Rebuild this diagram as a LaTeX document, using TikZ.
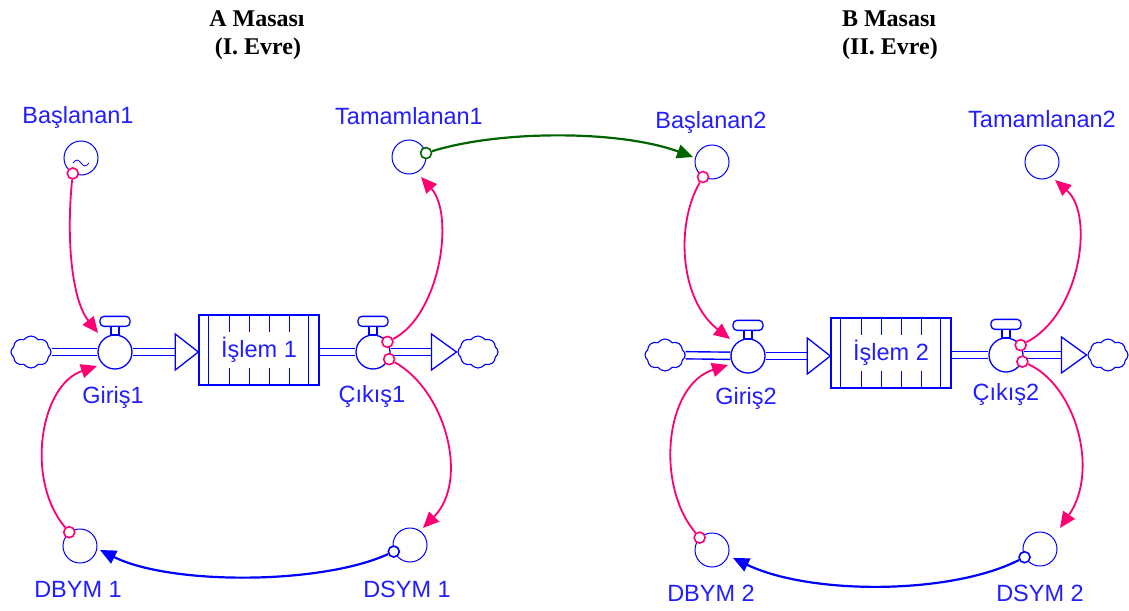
\documentclass[tikz,border=0pt]{standalone}
\usepackage{fontspec}
\newfontfamily\labfont{Liberation Sans}
\newfontfamily\ttlfont{Liberation Serif}
\usetikzlibrary{shapes.symbols,arrows.meta,calc}
\pgfdeclarelayer{back}
\pgfdeclarelayer{bg}
\pgfsetlayers{back,bg,main}
\definecolor{vblue}{RGB}{0,0,255}
\definecolor{vtext}{RGB}{35,30,255}
\definecolor{vpink}{RGB}{255,0,115}
\definecolor{vgreen}{RGB}{0,100,0}
\begin{document}
\begin{tikzpicture}[x=1pt,y=-1pt,
 aux/.style={circle,draw=vblue,line width=1pt,minimum size=34pt,inner sep=0pt,fill=white},
 valve/.style={circle,draw=vblue,line width=1.3pt,minimum size=34pt,inner sep=0pt,fill=white},
 stock/.style={rectangle,draw=vblue,line width=1.4pt,minimum width=120pt,minimum height=70pt,inner sep=0pt,fill=white,text=vtext,font=\labfont\fontsize{23.5}{26}\selectfont},
 lab/.style={text=vtext,font=\labfont\fontsize{23.5}{26}\selectfont,inner sep=0pt,anchor=base},
 ttl/.style={font=\ttlfont\bfseries\fontsize{24}{28}\selectfont,inner sep=0pt,anchor=base},
 src/.style={cloud,cloud puffs=8,cloud puff arc=110,aspect=1.25,draw=vblue,line width=1.1pt,minimum width=40pt,minimum height=32pt,inner sep=0pt,fill=white},
 pipe/.style={draw=vblue,line width=1.4pt,double=white,double distance=5.8pt},
 head/.style={draw=vblue,line width=1.3pt,fill=white,line join=miter},
 handle/.style={draw=vblue,line width=1.3pt,fill=white},
 inner/.style={draw=vblue,line width=1.3pt},
 dotp/.style={circle,draw=vpink,line width=1.6pt,fill=white,minimum size=11pt,inner sep=0pt},
 dotb/.style={circle,draw=vblue,line width=1.6pt,fill=white,minimum size=11pt,inner sep=0pt},
 dotg/.style={circle,draw=vgreen,line width=1.6pt,fill=white,minimum size=11pt,inner sep=0pt},
 infl/.style={draw=vpink,line width=1.8pt,-{Triangle[length=16pt,width=14pt]}},
 inflb/.style={draw=vblue,line width=2.2pt,-{Triangle[length=16pt,width=14pt]}},
 inflg/.style={draw=vgreen,line width=2.2pt,-{Triangle[length=16pt,width=14pt]}}
]
\useasboundingbox (0,0) rectangle (1129,610);
\begin{pgfonlayer}{back}
\fill[white] (0,0) rectangle (1129,610);
\end{pgfonlayer}

% titles
\node[ttl] (ta1) at (257,27) {A Masası};
\node[ttl] (ta2) at (258,55) {(I. Evre)};
\node[ttl] (tb1) at (889,27) {B Masası};
\node[ttl] (tb2) at (890,55) {(II. Evre)};

% auxiliaries
\node[aux] (bas1) at (81,158) {};
\node[aux] (tam1) at (409,157) {};
\node[aux] (bas2) at (712,162) {};
\node[aux] (tam2) at (1042,162) {};
\node[aux] (dbym1) at (80,546) {};
\node[aux] (dsym1) at (410,545) {};
\node[aux] (dbym2) at (712,550) {};
\node[aux] (dsym2) at (1040,549) {};
\draw[vblue,line width=0.8pt] ($(bas1)+(-8,5)$) sin ++(4,-3) cos ++(4,3) sin ++(4,3) cos ++(4,-3);

\node[lab] (lbas1) at (78,123) {Başlanan1};
\node[lab] (ltam1) at (409,124) {Tamamlanan1};
\node[lab] (lbas2) at (711,128) {Başlanan2};
\node[lab] (ltam2) at (1042,127) {Tamamlanan2};
\node[lab] (ldbym1) at (78,597) {DBYM 1};
\node[lab] (ldsym1) at (407,597) {DSYM 1};
\node[lab] (ldbym2) at (711,601) {DBYM 2};
\node[lab] (ldsym2) at (1040,601) {DSYM 2};

% stocks
\node[stock] (box1) at (259,350) {İşlem 1};
\node[stock] (box2) at (891,353) {İşlem 2};
\foreach \b in {box1,box2}{
  \foreach \dx in {10,110}
    \draw[inner] ($(\b.north west)+(\dx,0)$) -- ($(\b.south west)+(\dx,0)$);
  \foreach \dx in {31,51,71,91}{
    \draw[inner] ($(\b.north west)+(\dx,0)$) -- ++(0,18);
    \draw[inner] ($(\b.south west)+(\dx,0)$) -- ++(0,-18);
  }
}

% clouds
\node[src] (c1in) at (31,352) {};
\node[src] (c1out) at (478,352) {};
\node[src] (c2in) at (665,355) {};
\node[src] (c2out) at (1108,355) {};

% valves
\node[valve] (v1in) at (115,352) {};
\node[valve] (v1out) at (373,352) {};
\node[valve] (v2in) at (748,356) {};
\node[valve] (v2out) at (1006,355) {};
\foreach \v in {v1in,v1out,v2in,v2out}{
  \draw[handle,rounded corners=4pt] ($(\v.north)+(-15,-8)$) rectangle ($(\v.north)+(15,-18)$);
  \draw[handle] ($(\v.north)+(-4,0.5)$) rectangle ($(\v.north)+(4,-8)$);
}
\node[lab] (lv1in) at (113,403) {Giriş1};
\node[lab] (lv1out) at (372,402) {Çıkış1};
\node[lab] (lv2in) at (746,404) {Giriş2};
\node[lab] (lv2out) at (1006,400) {Çıkış2};

% flow arrowheads
\coordinate (h1) at (box1.west |- v1in);
\coordinate (h1b) at ($(h1)+(-23,0)$);
\coordinate (h2) at ($(c1out.west)+(-1,0)$);
\coordinate (h2b) at ($(h2)+(-25,0)$);
\coordinate (h3) at (box2.west |- v2in);
\coordinate (h3b) at ($(h3)+(-23,0)$);
\coordinate (h4) at ($(c2out.west)+(-1,0)$);
\coordinate (h4b) at ($(h4)+(-25,0)$);
\foreach \t/\l in {h1/23,h2/25,h3/23,h4/25}
  \draw[head] (\t) -- ++(-\l,-18) -- ++(0,36) -- cycle;

\begin{pgfonlayer}{bg}
\draw[pipe] (c1in) -- (v1in);
\draw[pipe] (v1in) -- (h1b);
\draw[pipe] (box1 |- v1out) -- (v1out);
\draw[pipe] (v1out) -- (h2b);
\draw[pipe] (c2in) -- (v2in);
\draw[pipe] (v2in) -- (h3b);
\draw[pipe] (box2 |- v2out) -- (v2out);
\draw[pipe] (v2out) -- (h4b);
\end{pgfonlayer}

% influence start dots
\node[dotp] (d1) at (bas1.242) {};
\node[dotp] (d2) at (dbym1.128) {};
\node[dotp] (d3) at (v1out.35) {};
\node[dotp] (d4) at (v1out.-24) {};
\node[dotg] (d5) at (tam1.13) {};
\node[dotb] (d6) at (dsym1.202) {};
\node[dotp] (d7) at (bas2.239) {};
\node[dotp] (d8) at (dbym2.135) {};
\node[dotp] (d9) at (v2out.34) {};
\node[dotp] (d10) at (v2out.-22) {};
\node[dotb] (d11) at (dsym2.208) {};

% arrow targets
\coordinate (t1) at ($(v1in)+(-17,-19)$);
\coordinate (t2) at ($(v1in)+(-18,14)$);
\coordinate (t3) at ($(tam1)+(12,20)$);
\coordinate (t4) at ($(dsym1)+(13,-17)$);
\coordinate (t5) at ($(bas2)+(-19,-5)$);
\coordinate (t6) at ($(dbym1)+(20,4)$);
\coordinate (t7) at ($(v2in)+(-18,-17)$);
\coordinate (t8) at ($(v2in)+(-20,9)$);
\coordinate (t9) at ($(tam2)+(13,18)$);
\coordinate (t10) at ($(dsym2)+(20,-21)$);
\coordinate (t11) at ($(dbym2)+(21,8)$);

\draw[infl] (d1) .. controls (66,240) and (72,300) .. (t1);
\draw[infl] (d2) .. controls (25,480) and (40,385) .. (t2);
\draw[infl] (d3) .. controls (440,315) and (455,215) .. (t3);
\draw[infl] (d4) .. controls (445,390) and (470,480) .. (t4);
\draw[inflg] (d5) .. controls (500,130) and (620,130) .. (t5);
\draw[inflb] (d6) .. controls (320,585) and (170,585) .. (t6);
\draw[infl] (d7) .. controls (675,225) and (680,300) .. (t7);
\draw[infl] (d8) .. controls (655,485) and (665,385) .. (t8);
\draw[infl] (d9) .. controls (1080,315) and (1095,215) .. (t9);
\draw[infl] (d10) .. controls (1075,385) and (1100,470) .. (t10);
\draw[inflb] (d11) .. controls (950,595) and (810,595) .. (t11);
\end{tikzpicture}
\end{document}
